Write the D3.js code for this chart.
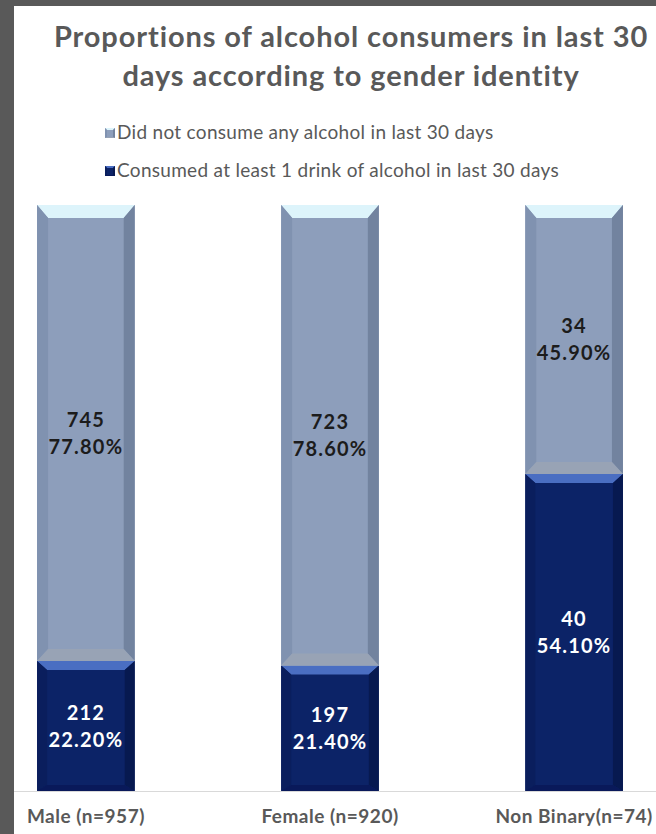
<!DOCTYPE html>
<html lang="en">
<head>
<meta charset="utf-8">
<title>Alcohol consumers by gender identity</title>
<script src="https://d3js.org/d3.v7.min.js"></script>
<style>
  html, body { margin: 0; padding: 0; background: #595959; }
  svg { display: block; }
</style>
</head>
<body>
<div id="chart"></div>
<script>
// ---- data ----
var categories = ["Male (n=957)", "Female (n=920)", "Non Binary(n=74)"];
var consumedCount = [212, 197, 40];
var consumedPct = [22.2, 21.4, 54.1];
var notConsumedCount = [745, 723, 34];
var notConsumedPct = [77.8, 78.6, 45.9];
var seriesNames = ["Did not consume any alcohol in last 30 days",
                   "Consumed at least 1 drink of alcohol in last 30 days"];

var W = 656, H = 834;
var FONT = "Lato, 'Open Sans', sans-serif";

var svg = d3.select("#chart").append("svg")
    .attr("width", W).attr("height", H);

// white panel (the picture is a crop with a dark frame on left and top)
svg.append("rect").attr("x", 14).attr("y", 6)
    .attr("width", W - 14).attr("height", H - 6).attr("fill", "#ffffff");

// title
var title = svg.append("text")
    .attr("text-anchor", "middle")
    .attr("font-family", FONT)
    .attr("font-weight", "bold")
    .attr("font-size", 29)
    .attr("letter-spacing", 0.9)
    .attr("fill", "#595959");
title.append("tspan").attr("x", 351).attr("y", 47).text("Proportions of alcohol consumers in last 30");
title.append("tspan").attr("x", 351).attr("y", 86).text("days according to gender identity");

// scales
var x = d3.scaleBand().domain(categories).range([9, 651])
    .paddingInner(0.6).paddingOuter(0.115);
var y = d3.scaleLinear().domain([0, 100]).range([791, 205]);

var rows = categories.map(function (c, i) {
  return { cat: c, consumed: consumedPct[i], notConsumed: notConsumedPct[i],
           consumedN: consumedCount[i], notConsumedN: notConsumedCount[i] };
});
var stack = d3.stack().keys(["consumed", "notConsumed"])(rows);

var styles = {
  consumed:    { face: "#0c2367", top: "#4a6ec2", left: "#0a1e5d", right: "#071950", bottom: "#09195a", bt: 9, bb: 6, b: 10, text: "#ffffff" },
  notConsumed: { face: "#8d9ebb", top: "#ddf4fb", left: "#8092b0", right: "#72839f", bottom: "#98a3b5", bt: 13, bb: 12, b: 11, text: "#1c1c1c" }
};

function bevelBar(g, x0, y0, w, y1, s) {
  var b = s.b, bt = s.bt, bb = s.bb;
  g.append("rect").attr("x", x0).attr("y", y0).attr("width", w).attr("height", y1 - y0).attr("fill", s.face);
  var polys = [
    { c: s.top,    p: [[x0, y0], [x0 + w, y0], [x0 + w - b, y0 + bt], [x0 + b, y0 + bt]] },
    { c: s.left,   p: [[x0, y0], [x0 + b, y0 + bt], [x0 + b, y1 - bb], [x0, y1]] },
    { c: s.right,  p: [[x0 + w, y0], [x0 + w, y1], [x0 + w - b, y1 - bb], [x0 + w - b, y0 + bt]] },
    { c: s.bottom, p: [[x0, y1], [x0 + w, y1], [x0 + w - b, y1 - bb], [x0 + b, y1 - bb]] }
  ];
  polys.forEach(function (q) {
    g.append("polygon").attr("points", q.p.map(function (d) { return d.join(","); }).join(" "))
      .attr("fill", q.c);
  });
}

var bars = svg.append("g");
stack.forEach(function (layer) {
  var s = styles[layer.key];
  layer.forEach(function (d) {
    var g = bars.append("g");
    var x0 = x(d.data.cat), w = x.bandwidth();
    var top = y(d[1]), bot = y(d[0]);
    bevelBar(g, x0, top, w, bot, s);
    var n = layer.key === "consumed" ? d.data.consumedN : d.data.notConsumedN;
    var p = layer.key === "consumed" ? d.data.consumed : d.data.notConsumed;
    var cy = (top + bot) / 2;
    var t = g.append("text")
      .attr("text-anchor", "middle")
      .attr("font-family", FONT)
      .attr("font-weight", "bold")
      .attr("font-size", 20)
      .attr("letter-spacing", 1.2)
      .attr("fill", s.text);
    t.append("tspan").attr("x", x0 + w / 2).attr("y", cy - 6).text(n);
    t.append("tspan").attr("x", x0 + w / 2).attr("y", cy + 21).text(p.toFixed(2) + "%");
  });
});

// category axis
var xAxis = svg.append("g").attr("transform", "translate(0," + y(0) + ")")
    .call(d3.axisBottom(x).tickSize(0).tickPadding(19));
xAxis.select(".domain").attr("d", "M14,0.5H" + W).attr("stroke", "#d9d9d9");
xAxis.selectAll("text")
    .attr("font-family", FONT)
    .attr("font-weight", "bold")
    .attr("font-size", 19)
    .attr("letter-spacing", 0.5)
    .attr("fill", "#595959");

// legend
var legend = svg.append("g");
var legendRows = [
  { name: seriesNames[0], s: styles.notConsumed, y: 139 },
  { name: seriesNames[1], s: styles.consumed, y: 177 }
];
legendRows.forEach(function (r) {
  var g = legend.append("g");
  bevelBar(g, 105, r.y - 11, 10, r.y - 1, { face: r.s.face, top: r.s.top, left: r.s.left, right: r.s.right, bottom: r.s.bottom, b: 2, bt: 2, bb: 1 });
  g.append("text").attr("x", 117).attr("y", r.y)
    .attr("font-family", FONT)
    .attr("font-size", 19)
    .attr("letter-spacing", 0.3)
    .attr("fill", "#595959")
    .text(r.name);
});
</script>
</body>
</html>
